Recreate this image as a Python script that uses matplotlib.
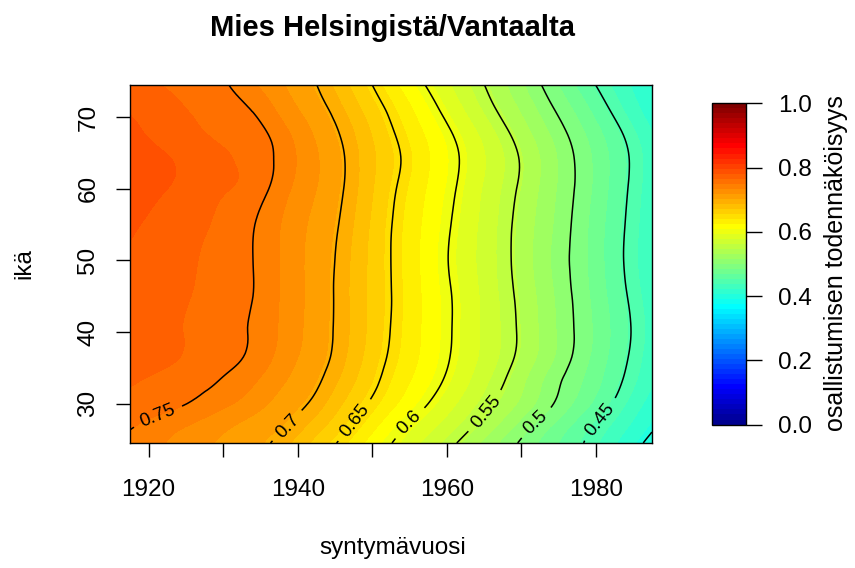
import numpy as np
import matplotlib
matplotlib.use('Agg')
import matplotlib.pyplot as plt
import matplotlib.tri as mtri
from matplotlib.colors import LinearSegmentedColormap

plt.rcParams['font.family'] = ['Liberation Sans', 'DejaVu Sans']

# grid knots (birth year, age) and participation probability
years = [1917.5, 1922, 1926, 1930, 1934, 1938, 1942, 1946, 1950, 1954,
         1958, 1962, 1966, 1970, 1974, 1978, 1982, 1987.5]
ages = [24.5, 27, 30, 33, 36, 40, 45, 50, 55, 60, 64, 68, 71, 74.5]
prob = [
    [0.745, 0.735, 0.725, 0.716, 0.707, 0.693, 0.669, 0.645, 0.617, 0.592, 0.569, 0.546, 0.521, 0.497, 0.474, 0.452, 0.427, 0.393],
    [0.752, 0.742, 0.733, 0.723, 0.713, 0.703, 0.683, 0.658, 0.631, 0.604, 0.582, 0.560, 0.536, 0.510, 0.485, 0.461, 0.437, 0.404],
    [0.760, 0.756, 0.748, 0.738, 0.726, 0.712, 0.697, 0.672, 0.646, 0.621, 0.597, 0.574, 0.551, 0.527, 0.502, 0.477, 0.451, 0.414],
    [0.767, 0.762, 0.756, 0.748, 0.736, 0.720, 0.705, 0.683, 0.656, 0.631, 0.608, 0.584, 0.560, 0.535, 0.508, 0.485, 0.460, 0.424],
    [0.773, 0.768, 0.762, 0.755, 0.745, 0.727, 0.710, 0.690, 0.662, 0.637, 0.614, 0.590, 0.567, 0.543, 0.517, 0.491, 0.465, 0.428],
    [0.776, 0.770, 0.763, 0.756, 0.748, 0.731, 0.713, 0.693, 0.666, 0.640, 0.616, 0.592, 0.569, 0.546, 0.520, 0.494, 0.468, 0.431],
    [0.778, 0.772, 0.765, 0.758, 0.750, 0.732, 0.714, 0.693, 0.667, 0.641, 0.616, 0.592, 0.568, 0.544, 0.518, 0.492, 0.465, 0.428],
    [0.780, 0.774, 0.767, 0.759, 0.750, 0.732, 0.714, 0.694, 0.667, 0.640, 0.614, 0.589, 0.566, 0.541, 0.515, 0.490, 0.462, 0.425],
    [0.783, 0.777, 0.770, 0.762, 0.751, 0.733, 0.716, 0.697, 0.669, 0.641, 0.616, 0.591, 0.567, 0.542, 0.517, 0.491, 0.463, 0.426],
    [0.788, 0.782, 0.775, 0.767, 0.759, 0.740, 0.721, 0.701, 0.673, 0.645, 0.620, 0.595, 0.570, 0.546, 0.520, 0.494, 0.466, 0.428],
    [0.789, 0.783, 0.776, 0.768, 0.760, 0.744, 0.723, 0.702, 0.675, 0.649, 0.623, 0.598, 0.573, 0.548, 0.521, 0.494, 0.467, 0.429],
    [0.785, 0.776, 0.769, 0.761, 0.756, 0.739, 0.718, 0.697, 0.670, 0.643, 0.617, 0.591, 0.565, 0.539, 0.513, 0.487, 0.460, 0.422],
    [0.780, 0.772, 0.764, 0.757, 0.749, 0.729, 0.711, 0.689, 0.662, 0.635, 0.607, 0.580, 0.554, 0.529, 0.503, 0.477, 0.449, 0.412],
    [0.772, 0.765, 0.758, 0.752, 0.737, 0.720, 0.703, 0.678, 0.650, 0.621, 0.594, 0.569, 0.544, 0.518, 0.491, 0.463, 0.437, 0.405],
]
contour_levels = [0.4, 0.45, 0.5, 0.55, 0.6, 0.65, 0.7, 0.75]
x_ticks = [1920, 1930, 1940, 1950, 1960, 1970, 1980]
x_tick_labels = ['1920', '', '1940', '', '1960', '', '1980']
y_ticks = [30, 40, 50, 60, 70]
cbar_ticks = [0.0, 0.2, 0.4, 0.6, 0.8, 1.0]

# tim.colors style palette, 64 steps
tim = LinearSegmentedColormap.from_list(
    'tim', [(0, '#00008F'), (7 / 63, '#0000FF'), (23 / 63, '#00FFFF'),
            (39 / 63, '#FFFF00'), (55 / 63, '#FF0000'), (1, '#800000')], N=64)

# smooth surface through the knots (matplotlib's refiner)
X, Y = np.meshgrid(years, ages)
triang = mtri.Triangulation(X.ravel(), Y.ravel())
refiner = mtri.UniformTriRefiner(triang)
tri_f, z_f = refiner.refine_field(np.ravel(prob), subdiv=3)

fig = plt.figure(figsize=(8.55, 5.68), dpi=100)
ax = fig.add_axes([0.152, 0.2201, 0.6105, 0.6303])
cax = fig.add_axes([0.8322, 0.2526, 0.0404, 0.5655])

cf = ax.tricontourf(tri_f, z_f, levels=np.linspace(0, 1, 65), cmap=tim)
cs = ax.tricontour(tri_f, z_f, levels=contour_levels, colors='black', linewidths=1.1)
ax.clabel(cs, inline=True, fontsize=13.5, inline_spacing=8, fmt=lambda v: f'{v:g}',
          manual=[(1921.2, 28.3), (1938.8, 26.7), (1947.7, 27.6), (1955.1, 27.2),
                  (1965.1, 29.0), (1972.1, 27.2), (1980.3, 28.0)])

ax.set_xlim(1917.5, 1987.5)
ax.set_ylim(24.5, 74.5)
ax.set_xticks(x_ticks)
ax.set_xticklabels(x_tick_labels)
ax.set_yticks(y_ticks)
ax.set_yticklabels([str(t) for t in y_ticks], rotation=90, va='center')
ax.tick_params(direction='out', length=10, width=1, labelsize=17.5)
ax.tick_params(axis='x', pad=16)
ax.tick_params(axis='y', pad=12)
for s in ax.spines.values():
    s.set_linewidth(1)

cb = fig.colorbar(cf, cax=cax, ticks=cbar_ticks, format='%.1f')
cb.outline.set_linewidth(1)
cax.tick_params(length=11.5, width=1, labelsize=17.5, pad=11.5)

fig.text(0.459, 0.9507, 'Mies Helsingistä/Vantaalta', ha='center', va='center',
         fontsize=21, fontweight='bold')
fig.text(0.459, 0.035, 'syntymävuosi', ha='center', va='center', fontsize=17.5)
fig.text(0.028, 0.5352, 'ikä', ha='center', va='center', rotation=90, fontsize=17.5)
fig.text(0.9778, 0.537, 'osallistumisen todennäköisyys', ha='center', va='center',
         rotation=90, fontsize=18)

fig.savefig('out.png', dpi=100)
